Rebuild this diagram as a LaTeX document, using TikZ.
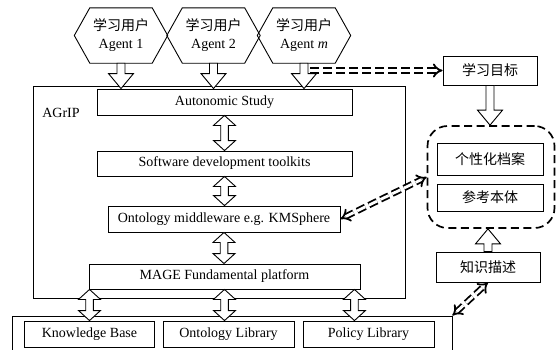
\documentclass[tikz,border=0pt]{standalone}
\usepackage{fontspec}
\setmainfont{Liberation Serif}
\newfontfamily\cjk{Noto Sans CJK SC}
\usetikzlibrary{arrows.meta,calc}
\tikzset{
  box/.style={draw, line width=0.9pt, inner sep=0pt, minimum height=26pt, fill=white},
  frame/.style={draw, line width=0.9pt, inner sep=0pt},
  hexn/.style={inner sep=0pt, minimum width=62pt, minimum height=55pt, align=center},
  hexline/.style={line width=0.9pt},
  hollow/.style={draw, line width=0.9pt, fill=white, line join=miter},
  ddarrow/.style={double, line width=1.8pt, double distance=2.8pt, dash pattern=on 9pt off 4pt},
}
\newcommand\hsarrow[2]{\path[hollow] let \p1=#1, \p2=#2, \n1={sign(\y2-\y1)} in
  ({\x1-4pt},\y1) -- ({\x1+4pt},\y1) -- ({\x1+4pt},{\y2-\n1*15pt}) -- ({\x1+12.5pt},{\y2-\n1*15pt})
  -- (\x1,\y2) -- ({\x1-12.5pt},{\y2-\n1*15pt}) -- ({\x1-4pt},{\y2-\n1*15pt}) -- cycle;}
\newcommand\hdarrow[2]{\path[hollow] let \p1=#1, \p2=#2, \n1={sign(\y2-\y1)} in
  (\x1,\y1) -- ({\x1+11pt},{\y1+\n1*10pt}) -- ({\x1+3.8pt},{\y1+\n1*10pt}) -- ({\x1+3.8pt},{\y2-\n1*10pt})
  -- ({\x1+11pt},{\y2-\n1*10pt}) -- (\x1,\y2) -- ({\x1-11pt},{\y2-\n1*10pt}) -- ({\x1-3.8pt},{\y2-\n1*10pt})
  -- ({\x1-3.8pt},{\y1+\n1*10pt}) -- ({\x1-11pt},{\y1+\n1*10pt}) -- cycle;}
\begin{document}
\begin{tikzpicture}[x=1pt, y=-1pt, font=\fontsize{14}{18}\selectfont]
\useasboundingbox (0,0) rectangle (557,349);
\clip (0,0) rectangle (557,349);
% frames
\node[frame, minimum width=372pt, minimum height=212pt] (agrip) at (219,192) {};
\node[anchor=center] (agl) at (61,113) {AGrIP};
\node[frame, minimum width=440pt, minimum height=60pt] (lib) at (232,346) {};
% agents
\node[hexn] (a1) at (121,35.5) {{\cjk 学习用户}\\Agent 1};
\node[hexn] (a2) at (213.5,35.5) {{\cjk 学习用户}\\Agent 2};
\node[hexn] (a3) at (304,35.5) {{\cjk 学习用户}\\Agent \textit{m}};
\foreach \h in {a1,a2,a3}{
  \draw[hexline] (\h.north west) -- (\h.north east) -- ($(\h.east)+(15.5,0)$) -- (\h.south east)
    -- (\h.south west) -- ($(\h.west)+(-15.5,0)$) -- cycle;
}
% layers
\node[box, minimum width=255pt] (auto) at (224.5,102) {Autonomic Study};
\node[box, minimum width=255pt, minimum height=25pt] (soft) at (224.5,163.5) {Software development toolkits};
\node[box, minimum width=232pt] (omw) at (224,219) {Ontology middleware e.g. KMSphere};
\node[box, minimum width=271pt, minimum height=25pt] (mage) at (224.5,276.5) {MAGE Fundamental platform};
\node[box, minimum width=130pt] (kb) at (89.5,334) {Knowledge Base};
\node[box, minimum width=131pt] (ol) at (228.5,334) {Ontology Library};
\node[box, minimum width=131pt] (pl) at (368.5,334) {Policy Library};
% right side
\node[box, minimum width=94pt, minimum height=29pt, font=\fontsize{14}{18}\cjk] (goal) at (490,70.5) {学习目标};
\node[draw, line width=1.7pt, dash pattern=on 8pt off 4.5pt, rounded corners=20pt,
  minimum width=127pt, minimum height=102pt, inner sep=0pt] (dbox) at (491,177) {};
\node[box, minimum width=106pt, minimum height=32pt, font=\fontsize{14}{18}\cjk] (prof) at (490,159) {个性化档案};
\node[box, minimum width=106pt, minimum height=27pt, font=\fontsize{14}{18}\cjk] (refo) at (490,197.5) {参考本体};
\node[box, minimum width=104pt, minimum height=30pt, font=\fontsize{14}{18}\cjk] (know) at (488,267) {知识描述};
% hollow arrows
\foreach \h in {a1,a2,a3}{ \hsarrow{(\h.south)}{(\h.south |- auto.north)} }
\hsarrow{(goal.south)}{(goal.south |- dbox.north)}
\hsarrow{(know.north)}{(know.north |- dbox.south)}
\hdarrow{(auto.south)}{(soft.north)}
\hdarrow{(soft.south)}{(omw.north)}
\hdarrow{(omw.south)}{(mage.north)}
\hdarrow{(kb.north |- mage.south)}{(kb.north)}
\hdarrow{(mage.south)}{(mage.south |- ol.north)}
\coordinate (pa) at ($(mage.south east)+(-6,0)$);
\hdarrow{(pa)}{(pa |- pl.north)}
% dashed double arrows
\coordinate (ds) at ($(a3.south |- goal.west)+(6,0)$);
\draw[ddarrow, -{Implies}] (ds) -- (goal.west);
\draw[ddarrow, {Implies}-{Implies}] (omw.east) -- (dbox.west);
\draw[ddarrow, {Implies}-{Implies}] (lib.north east) -- (know.south);
\end{tikzpicture}
\end{document}
